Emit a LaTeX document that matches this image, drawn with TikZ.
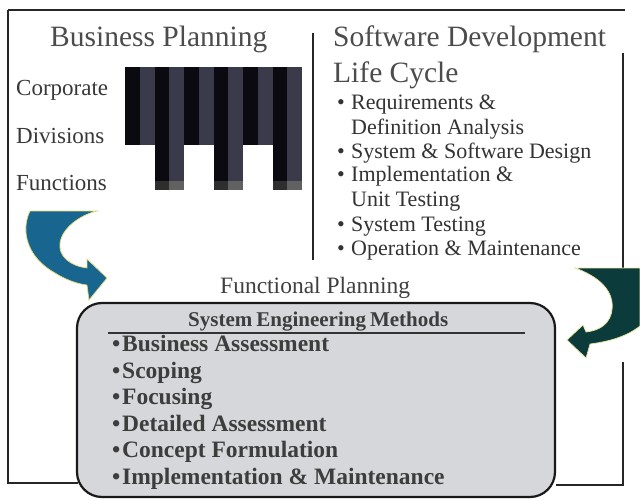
\documentclass[tikz,border=0pt]{standalone}
\usepackage{fontspec}
\setmainfont{Liberation Serif}
\begin{document}
\begin{tikzpicture}[x=1pt,y=-1pt,
  frame/.style={draw=black!85, line width=1.8pt},
  heading/.style={anchor=base west, inner sep=0pt, text=black!70, font=\fontsize{29.5}{30}\selectfont},
  level/.style={anchor=base west, inner sep=0pt, text=black!78, font=\fontsize{23}{24}\selectfont},
  phase/.style={anchor=base west, inner sep=0pt, text=black!80, font=\fontsize{22}{24}\selectfont},
  method/.style={anchor=base west, inner sep=0pt, text=black!76, font=\bfseries\fontsize{23.5}{24}\selectfont},
  barblack/.style={fill=stripedark},
  bargray/.style={fill=stripelight},
  bluearrow/.style={fill=arrowblue, draw=arrowrim, line width=0.7pt},
  greenarrow/.style={fill=arrowgreen, draw=arrowrim!70!white, line width=0.7pt}
]
\definecolor{arrowblue}{HTML}{18658F}
\definecolor{arrowgreen}{HTML}{0B3B3B}
\definecolor{arrowrim}{HTML}{E4DC72}
\definecolor{boxfill}{HTML}{D5D7DA}
\definecolor{stripedark}{HTML}{0A0A10}
\definecolor{stripelight}{HTML}{3A3A4A}
\useasboundingbox (0,0) rectangle (640,500);
\fill[white] (0,0) rectangle (640,500);

% outer frame and divider
\draw[frame] (8,10) -- (625,10);
\draw[frame] (8,10) -- (8,483) -- (78,483);
\draw[frame] (623,53) -- (623,268);
\draw[frame] (623,362) -- (623,485) -- (556,485);
\draw[frame] (313,33) -- (313,260);

% headings
\node[heading] (bp) at (50,47) {Business Planning};
\node[heading] (sd) at (333,47) {Software Development};
\node[heading] (lc) at (333,83) {Life Cycle};

% organisation levels
\node[level] (corp) at (16,96) {Corporate};
\node[level] (div) at (16,143) {Divisions};
\node[level] (func) at (16,190) {Functions};

% striped organisation bars
\foreach \i in {0,2,...,10}
  \fill[barblack] ({125+14.75*\i},67) rectangle ({125+14.75*(\i+1)},145.5);
\foreach \i in {1,3,...,11}
  \fill[bargray] ({125+14.75*\i},67) rectangle ({125+14.75*(\i+1)},145.5);
\foreach \s in {2,6,10} {
  \fill[barblack] ({125+14.75*\s},145) rectangle ({125+14.75*(\s+1)},181);
  \fill[bargray] ({125+14.75*(\s+1)},145) rectangle ({125+14.75*(\s+2)},181);
  \fill[black!82] ({125+14.75*\s},180.5) rectangle ({125+14.75*(\s+1)},190);
  \fill[black!62] ({125+14.75*(\s+1)},180.5) rectangle ({125+14.75*(\s+2)},190);
}

% life cycle phases
\node[phase] (p1) at (337,110) {\makebox[14pt][l]{\textbullet}Requirements \&};
\node[phase] (p1b) at (351,135) {Definition Analysis};
\node[phase] (p2) at (337,158) {\makebox[14pt][l]{\textbullet}System \& Software Design};
\node[phase] (p3) at (337,182) {\makebox[14pt][l]{\textbullet}Implementation \&};
\node[phase] (p3b) at (351,206) {Unit Testing};
\node[phase] (p4) at (337,231) {\makebox[14pt][l]{\textbullet}System Testing};
\node[phase] (p5) at (337,255) {\makebox[14pt][l]{\textbullet}Operation \& Maintenance};

% curved arrows
\path[bluearrow] (97,211) -- (30,211)
  .. controls (20,232) and (28,258) .. (55,273)
  .. controls (66,280) and (78,284) .. (87,285)
  -- (89,300) -- (107,278) -- (87,259) -- (87,268)
  .. controls (70,266) and (58,256) .. (60,243)
  .. controls (62,228) and (80,215) .. (97,211) -- cycle;
\path[greenarrow] (575,268) -- (640,268) -- (640,326)
  .. controls (625,338) and (605,342) .. (590,344)
  -- (586,358) -- (567,340) -- (583,325) -- (586,332)
  .. controls (605,330) and (614,318) .. (612,302)
  .. controls (610,287) and (595,275) .. (575,268) -- cycle;

% functional planning panel
\node[anchor=base west, inner sep=0pt, text=black!75, font=\fontsize{23.5}{24}\selectfont] (fp) at (220,293) {Functional Planning};
\node[draw=black!90, line width=2.2pt, fill=boxfill, rounded corners=25pt,
      minimum width=478pt, minimum height=194pt, inner sep=0pt] (methods) at (316,400) {};
\node[anchor=base west, inner sep=0pt, text=black!76, font=\bfseries\fontsize{21}{24}\selectfont] (sem) at (188,326) {System\hspace{4pt}Engineering\hspace{4pt}Methods};
\draw[black!80, line width=1.6pt] (108,333) -- (525,333);

\node[method] (m1) at (112,351) {\makebox[10pt][l]{\textbullet}Business Assessment};
\node[method] (m2) at (112,378) {\makebox[10pt][l]{\textbullet}Scoping};
\node[method] (m3) at (112,404) {\makebox[10pt][l]{\textbullet}Focusing};
\node[method] (m4) at (112,431) {\makebox[10pt][l]{\textbullet}Detailed Assessment};
\node[method] (m5) at (112,457) {\makebox[10pt][l]{\textbullet}Concept Formulation};
\node[method] (m6) at (112,484) {\makebox[10pt][l]{\textbullet}Implementation \& Maintenance};
\end{tikzpicture}
\end{document}
